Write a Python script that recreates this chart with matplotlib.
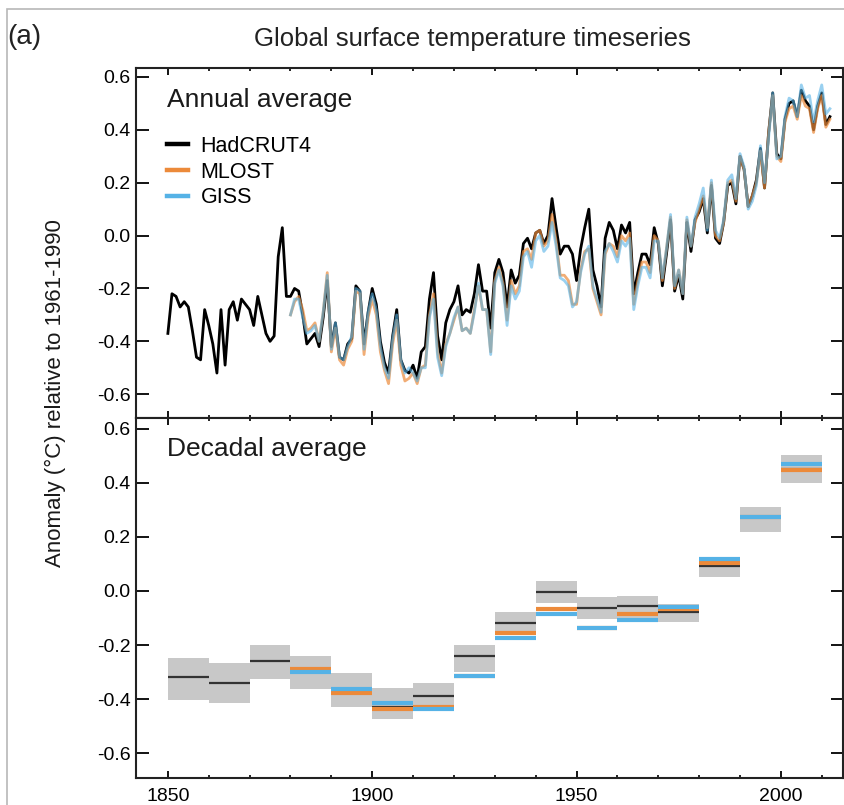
import numpy as np
import matplotlib
matplotlib.use("Agg")
import matplotlib.pyplot as plt
from matplotlib.lines import Line2D
from matplotlib.patches import Rectangle
from matplotlib.ticker import MultipleLocator

plt.rcParams['font.family'] = ['Liberation Sans', 'DejaVu Sans']
plt.rcParams['axes.unicode_minus'] = False

# annual anomalies (degC, relative to 1961-1990)
had_years = np.arange(1850, 2013)
hadcrut4 = [
    -0.37, -0.22, -0.23, -0.27, -0.25, -0.27, -0.36, -0.46, -0.47, -0.28,
    -0.34, -0.41, -0.52, -0.28, -0.49, -0.28, -0.25, -0.32, -0.24, -0.26,
    -0.28, -0.34, -0.23, -0.30, -0.37, -0.40, -0.38, -0.08, 0.03, -0.23,
    -0.23, -0.20, -0.21, -0.30, -0.41, -0.39, -0.37, -0.42, -0.31, -0.17,
    -0.42, -0.33, -0.46, -0.47, -0.41, -0.39, -0.19, -0.21, -0.41, -0.29,
    -0.20, -0.26, -0.40, -0.48, -0.52, -0.38, -0.28, -0.47, -0.51, -0.52,
    -0.49, -0.54, -0.44, -0.42, -0.24, -0.14, -0.38, -0.47, -0.33, -0.28,
    -0.25, -0.19, -0.30, -0.28, -0.29, -0.22, -0.11, -0.21, -0.21, -0.35,
    -0.14, -0.09, -0.14, -0.27, -0.13, -0.18, -0.15, -0.03, -0.01, -0.05,
    0.01, 0.02, -0.03, -0.00, 0.14, 0.03, -0.07, -0.04, -0.04, -0.07,
    -0.17, -0.05, 0.03, 0.10, -0.13, -0.19, -0.27, -0.01, 0.05, 0.02,
    -0.05, 0.04, 0.01, 0.05, -0.22, -0.14, -0.07, -0.07, -0.11, 0.03,
    -0.03, -0.19, -0.07, 0.06, -0.21, -0.15, -0.24, 0.05, -0.06, 0.06,
    0.09, 0.14, 0.01, 0.19, -0.01, -0.03, 0.05, 0.19, 0.20, 0.12,
    0.30, 0.25, 0.11, 0.15, 0.21, 0.33, 0.18, 0.39, 0.54, 0.31,
    0.29, 0.44, 0.50, 0.51, 0.45, 0.55, 0.51, 0.49, 0.40, 0.49,
    0.54, 0.42, 0.45,
]

other_years = np.arange(1880, 2013)
mlost = [
    -0.30, -0.25, -0.23, -0.28, -0.36, -0.35, -0.33, -0.40, -0.29, -0.14,
    -0.44, -0.35, -0.47, -0.49, -0.43, -0.40, -0.21, -0.22, -0.45, -0.31,
    -0.24, -0.30, -0.44, -0.51, -0.56, -0.41, -0.32, -0.49, -0.55, -0.54,
    -0.52, -0.56, -0.50, -0.49, -0.30, -0.22, -0.44, -0.52, -0.41, -0.37,
    -0.32, -0.27, -0.36, -0.35, -0.37, -0.28, -0.19, -0.28, -0.28, -0.44,
    -0.17, -0.12, -0.18, -0.32, -0.17, -0.22, -0.19, -0.06, -0.05, -0.09,
    0.01, 0.02, -0.04, -0.02, 0.08, -0.02, -0.15, -0.15, -0.17, -0.26,
    -0.26, -0.13, -0.06, -0.05, -0.20, -0.25, -0.30, -0.07, -0.03, -0.04,
    -0.08, 0.00, -0.02, 0.01, -0.26, -0.17, -0.10, -0.10, -0.14, -0.00,
    -0.02, -0.17, -0.05, 0.07, -0.20, -0.13, -0.22, 0.06, -0.04, 0.05,
    0.10, 0.15, 0.03, 0.20, 0.00, -0.02, 0.05, 0.20, 0.21, 0.13,
    0.30, 0.25, 0.11, 0.15, 0.20, 0.32, 0.18, 0.39, 0.53, 0.30,
    0.28, 0.43, 0.48, 0.49, 0.44, 0.53, 0.49, 0.48, 0.39, 0.48,
    0.53, 0.41, 0.44,
]
giss = [
    -0.30, -0.24, -0.24, -0.31, -0.37, -0.36, -0.34, -0.40, -0.29, -0.15,
    -0.43, -0.33, -0.46, -0.47, -0.42, -0.38, -0.20, -0.21, -0.43, -0.29,
    -0.22, -0.28, -0.42, -0.50, -0.54, -0.39, -0.30, -0.47, -0.52, -0.50,
    -0.52, -0.55, -0.50, -0.50, -0.31, -0.24, -0.46, -0.53, -0.42, -0.37,
    -0.31, -0.27, -0.36, -0.35, -0.37, -0.29, -0.18, -0.28, -0.28, -0.45,
    -0.18, -0.13, -0.19, -0.34, -0.19, -0.24, -0.21, -0.08, -0.06, -0.12,
    -0.02, 0.00, -0.06, -0.04, 0.05, -0.04, -0.16, -0.17, -0.19, -0.27,
    -0.25, -0.14, -0.07, -0.04, -0.19, -0.24, -0.29, -0.06, -0.03, -0.06,
    -0.10, -0.02, -0.04, -0.01, -0.28, -0.19, -0.12, -0.12, -0.16, -0.02,
    -0.02, -0.16, -0.05, 0.08, -0.19, -0.13, -0.22, 0.07, -0.04, 0.07,
    0.12, 0.18, 0.02, 0.21, 0.02, -0.01, 0.06, 0.21, 0.23, 0.14,
    0.31, 0.26, 0.10, 0.13, 0.19, 0.34, 0.20, 0.37, 0.54, 0.29,
    0.30, 0.45, 0.52, 0.51, 0.45, 0.57, 0.52, 0.53, 0.43, 0.51,
    0.57, 0.46, 0.48,
]

# decadal averages
had_decades = np.arange(1850, 2010, 10)
had_dec = [-0.32, -0.34, -0.26, -0.29, -0.37, -0.43, -0.39, -0.24,
           -0.12, -0.005, -0.063, -0.056, -0.079, 0.094, 0.273, 0.45]
had_lo = [-0.404, -0.414, -0.327, -0.364, -0.431, -0.474, -0.445, -0.299,
          -0.163, -0.046, -0.105, -0.112, -0.115, 0.053, 0.22, 0.399]
had_hi = [-0.247, -0.268, -0.20, -0.241, -0.305, -0.358, -0.34, -0.20,
          -0.077, 0.037, -0.023, -0.019, -0.048, 0.127, 0.312, 0.504]
other_decades = np.arange(1880, 2010, 10)
mlost_dec = [-0.29, -0.377, -0.436, -0.428, -0.314, -0.157, -0.067,
             -0.137, -0.086, -0.065, 0.105, 0.273, 0.447]
giss_dec = [-0.30, -0.362, -0.414, -0.438, -0.314, -0.174, -0.086,
            -0.137, -0.106, -0.059, 0.118, 0.273, 0.47]

c_had = 'black'
c_mlost = '#ec8a3a'
c_giss = '#55b2e6'

W, H = 844, 805
fig = plt.figure(figsize=(W / 100, H / 100), dpi=100)

left = 136 / W
width = (843 - 136) / W
ax1 = fig.add_axes([left, 1 - 418 / H, width, 350 / H])
ax2 = fig.add_axes([left, 1 - 778 / H, width, 360 / H])

# annual
ax1.plot(had_years, hadcrut4, color=c_had, lw=2.0, zorder=2)
ax1.plot(other_years, mlost, color=c_mlost, lw=2.0, alpha=0.7, zorder=3)
ax1.plot(other_years, giss, color=c_giss, lw=2.0, alpha=0.6, zorder=4)
ax1.set_ylim(-0.69, 0.634)

handles = [Line2D([], [], color=c, lw=3.2) for c in (c_had, c_mlost, c_giss)]
ax1.legend(handles, ['HadCRUT4', 'MLOST', 'GISS'], loc='upper left',
           bbox_to_anchor=(0.044, 0.806), frameon=False, fontsize=15.5,
           handlelength=0.95, handletextpad=0.6, labelspacing=0.22,
           borderaxespad=0, borderpad=0)
ax1.text(0.044, 0.89, 'Annual average', transform=ax1.transAxes,
         fontsize=19, va='baseline', color='#1a1a1a')

# decadal
ax2.bar(had_decades, np.array(had_hi) - np.array(had_lo), bottom=had_lo,
        width=10, align='edge', color='#c8c8c8', zorder=1)
ax2.hlines(had_dec, had_decades, had_decades + 10, color='#333333', lw=1.6, zorder=2)
ax2.hlines(mlost_dec, other_decades, other_decades + 10, color=c_mlost, lw=3, zorder=3)
ax2.hlines(giss_dec, other_decades, other_decades + 10, color=c_giss, lw=3, zorder=4)
ax2.set_ylim(-0.692, 0.64)
ax2.text(0.044, 0.894, 'Decadal average', transform=ax2.transAxes,
         fontsize=19, va='baseline', color='#1a1a1a')

for ax in (ax1, ax2):
    ax.set_xlim(1842.2, 2015.2)
    ax.xaxis.set_major_locator(MultipleLocator(50))
    ax.xaxis.set_minor_locator(MultipleLocator(10))
    ax.yaxis.set_major_locator(MultipleLocator(0.2))
    ax.yaxis.set_major_formatter(plt.FuncFormatter(lambda v, p: f'{v:.1f}'.replace('-0.0', '0.0')))
    ax.tick_params(axis='x', which='major', direction='in', top=True, bottom=True,
                   length=5, width=1.3, labelsize=14, pad=7)
    ax.tick_params(axis='x', which='minor', direction='in', top=True, bottom=True,
                   length=2.5, width=1.2)
    ax.tick_params(axis='y', direction='in', left=True, right=True,
                   length=9, width=1.3, labelsize=14, pad=4)
    for s in ax.spines.values():
        s.set_linewidth(1.5)
        s.set_color('#222222')

ax1.tick_params(axis='x', labelbottom=False)

fig.text(55 / W, 1 - 393 / H, 'Anomaly (°C) relative to 1961-1990', rotation=90,
         ha='center', va='center', fontsize=16, color='#1a1a1a')
fig.text(472 / W, 1 - 46 / H, 'Global surface temperature timeseries',
         ha='center', va='baseline', fontsize=18.5, color='#222222')
fig.text(7 / W, 1 - 44 / H, '(a)', ha='left', va='baseline', fontsize=20,
         color='#222222')

fig.patches.append(Rectangle((7 / W, -0.1), 1.2, 1.1 - 9 / H, transform=fig.transFigure,
                             fill=False, edgecolor='#b8b8b8', lw=1.2))

fig.savefig('out.png', dpi=100)
